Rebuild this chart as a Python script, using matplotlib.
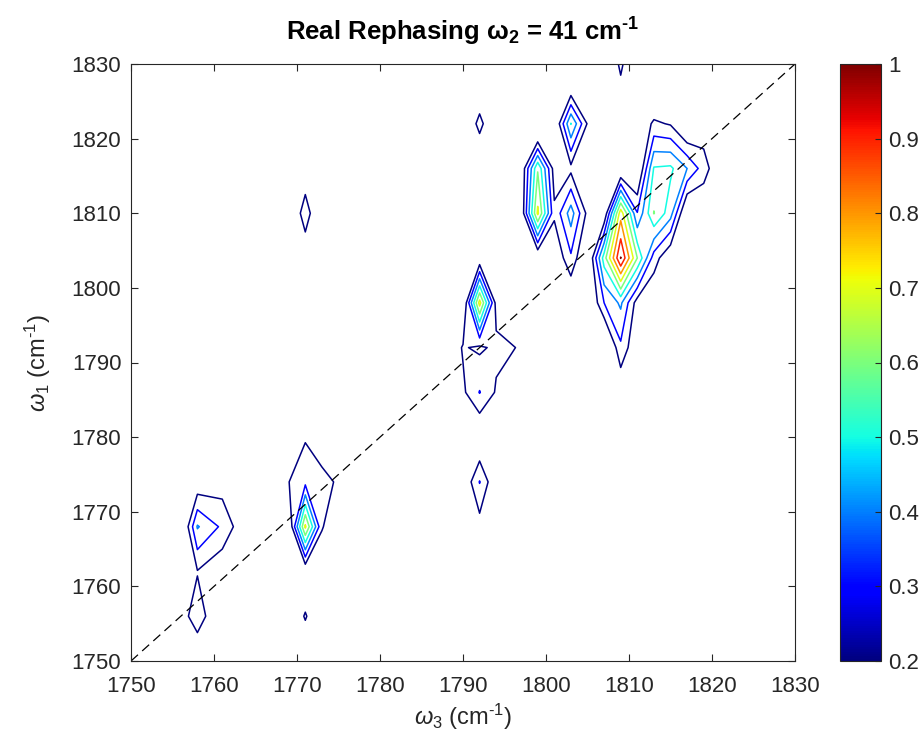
import numpy as np
import matplotlib
matplotlib.use("Agg")
import matplotlib.pyplot as plt
from matplotlib.colors import Normalize
from matplotlib.cm import ScalarMappable

plt.rcParams['font.family'] = ['Liberation Sans', 'DejaVu Sans']
plt.rcParams['mathtext.fontset'] = 'custom'
plt.rcParams['mathtext.rm'] = 'Liberation Sans'
plt.rcParams['mathtext.it'] = 'Liberation Sans:italic'
plt.rcParams['mathtext.bf'] = 'Liberation Sans:bold'

# detection axis (omega_3) and excitation axis (omega_1), cm^-1
w3 = [1746, 1752, 1755, 1758, 1761, 1764, 1767, 1769, 1771, 1773, 1775, 1778,
      1783, 1788, 1790, 1792, 1794, 1797, 1799, 1801, 1803, 1805, 1807, 1809,
      1811, 1813, 1815, 1817, 1819, 1821, 1824, 1834]
w1 = [1744, 1750, 1756, 1762, 1768, 1774, 1780, 1786, 1792, 1798, 1804, 1810,
      1816, 1822, 1828, 1834]

# normalised real rephasing signal, one row per omega_1 value
signal = [
    # 1744
    [.10, .10, .10, .10, .10, .10, .10, .10, .10, .10, .10, .10, .10, .10, .10, .10,
     .10, .10, .10, .10, .10, .10, .10, .10, .10, .10, .10, .10, .10, .10, .10, .10],
    # 1750
    [.10, .10, .10, .122, .10, .10, .10, .10, .10, .10, .10, .10, .10, .10, .10, .10,
     .10, .10, .10, .10, .10, .10, .10, .10, .10, .10, .10, .10, .10, .10, .10, .10],
    # 1756
    [.10, .10, .12, .245, .11, .10, .10, .10, .21, .10, .10, .10, .10, .10, .10, .10,
     .10, .10, .10, .10, .10, .10, .10, .10, .10, .10, .10, .10, .10, .10, .10, .10],
    # 1762
    [.10, .10, .10, .195, .12, .10, .10, .10, .10, .10, .10, .10, .10, .10, .10, .10,
     .10, .10, .10, .10, .10, .10, .10, .10, .10, .10, .10, .10, .10, .10, .10, .10],
    # 1768
    [.10, .10, -.15, .41, .28, .10, .10, .074, .72, .21, .10, .10, .10, .10, .10, .155,
     .10, .10, .10, .10, .10, .10, .10, .10, .10, .10, .10, .10, .10, .10, .10, .10],
    # 1774
    [.10, .10, .10, .12, .15, .10, .10, .198, .27, .25, .179, .10, .10, .10, .10, .305,
     .10, .10, .10, .10, .10, .10, .10, .10, .10, .10, .10, .10, .10, .10, .10, .10],
    # 1780
    [.10, .10, .10, .10, .10, .10, .10, .10, .19, .10, .10, .10, .10, .10, .10, .08,
     .10, .10, .10, .10, .10, .10, .10, .10, .10, .10, .10, .10, .10, .10, .10, .10],
    # 1786
    [.10, .10, .10, .10, .10, .10, .10, .10, .10, .10, .10, .10, .10, .10, .18, .305,
     .188, .10, .10, .10, .10, .10, .10, .10, .10, .10, .10, .10, .10, .10, .10, .10],
    # 1792
    [.10, .10, .10, .10, .10, .10, .10, .10, .10, .10, .10, .10, .10, .10, .21, .18,
     .224, .193, .10, .10, .10, .10, .00, .28, .10, .10, .10, .10, .10, .10, .10, .10],
    # 1798
    [.10, .10, .10, .10, .10, .10, .10, .10, .10, .10, .10, .10, .10, .10, .065, .74,
     .16, .10, .10, .10, .076, .05, .30, .42, .15, .10, .10, .10, .10, .10, .10, .10],
    # 1804
    [.10, .10, .10, .10, .10, .10, .10, .10, .14, .10, .10, .10, .10, .10, .10, .107,
     .10, .10, .083, .10, .283, .05, .55, 1.005, .60, .25, .10, .10, .10, .10, .10, .10],
    # 1810
    [.10, .10, .10, .10, .10, .10, .10, .10, .243, .10, .10, .10, .10, .10, .10, .10,
     .10, .108, .72, .22, .45, .17, .10, .76, .305, .605, .443, .05, .10, .10, .10, .10],
    # 1816
    [.10, .10, .10, .10, .10, .10, .10, .10, .14, .10, .10, .10, .10, .10, .10, .10,
     .10, .10, .59, .15, .172, .10, .00, .056, .05, .509, .52, .40, .25, .10, .10, .10],
    # 1822
    [.10, .10, .10, .10, .10, .10, .10, .10, .10, .10, .10, .10, .10, .10, .10, .228,
     .10, .10, -.067, .069, .505, .19, .10, .10, .10, .22, .19, .05, .135, .10, .10, .10],
    # 1828
    [.10, .10, .10, .10, .10, .10, .10, .10, .10, .10, .10, .10, .10, .10, .10, .10,
     .10, .10, .10, .10, .02, .10, .10, .19, .10, .00, .10, .10, .10, .10, .10, .10],
    # 1834
    [.10, .10, .10, .10, .10, .10, .10, .10, .10, .10, .10, .10, .10, .10, .10, .10,
     .10, .10, .10, .10, .10, .10, .10, .31, .10, .10, .10, .10, .10, .10, .10, .10],
]

levels = [0.2, 0.3, 0.4, 0.5, 0.6, 0.7, 0.8, 0.9, 1.0]
axis_ticks = [1750, 1760, 1770, 1780, 1790, 1800, 1810, 1820, 1830]
cbar_ticks = [0.2, 0.3, 0.4, 0.5, 0.6, 0.7, 0.8, 0.9, 1.0]
cbar_labels = ['0.2', '0.3', '0.4', '0.5', '0.6', '0.7', '0.8', '0.9', '1']

HY = '\u2010'  # short hyphen for the exponent
dark = '#262626'
fig = plt.figure(figsize=(9.24, 7.53), dpi=100)
ax = fig.add_axes([131 / 924, 1 - 661 / 753, (795 - 131) / 924, (661 - 64) / 753])

norm = Normalize(vmin=0.2, vmax=1.0)
ax.contour(np.array(w3), np.array(w1), np.array(signal), levels=levels,
           cmap='jet', norm=norm, linewidths=1.1)

# diagonal omega_1 = omega_3
ax.plot([axis_ticks[0], axis_ticks[-1]], [axis_ticks[0], axis_ticks[-1]],
        color='black', linestyle=(0, (7.5, 4.5)), linewidth=0.9)

ax.set_xlim(1750, 1830)
ax.set_ylim(1750, 1830)
ax.set_xticks(axis_ticks)
ax.set_yticks(axis_ticks)
ax.tick_params(direction='in', top=True, right=True, length=5, width=0.8,
               labelsize=16, colors=dark)
ax.tick_params(axis='y', pad=7)
ax.tick_params(axis='x', pad=11)
for s in ax.spines.values():
    s.set_color(dark)
    s.set_linewidth(0.8)

ax.set_xlabel(r'$\omega_3$ (cm$^{' + HY + '1}$)', fontsize=17, color=dark, labelpad=3)
ax.set_ylabel(r'$\omega_1$ (cm$^{' + HY + '1}$)', fontsize=17, color=dark, labelpad=13)
ax.set_title(r'Real Rephasing $\mathbf{\omega_2}$ = 41 cm$^{\mathbf{' + HY + '1}}$',
             fontsize=18.5, fontweight='bold', color='black', pad=17)

cax = fig.add_axes([840 / 924, 1 - 661 / 753, 41 / 924, (661 - 64) / 753])
sm = ScalarMappable(norm=norm, cmap='jet')
cb = fig.colorbar(sm, cax=cax, ticks=cbar_ticks)
cb.ax.set_yticklabels(cbar_labels)
cb.ax.tick_params(direction='in', length=4, width=0.8, labelsize=16,
                  colors=dark, pad=5)
cb.outline.set_edgecolor(dark)
cb.outline.set_linewidth(0.8)

fig.savefig('out.png', dpi=100)
